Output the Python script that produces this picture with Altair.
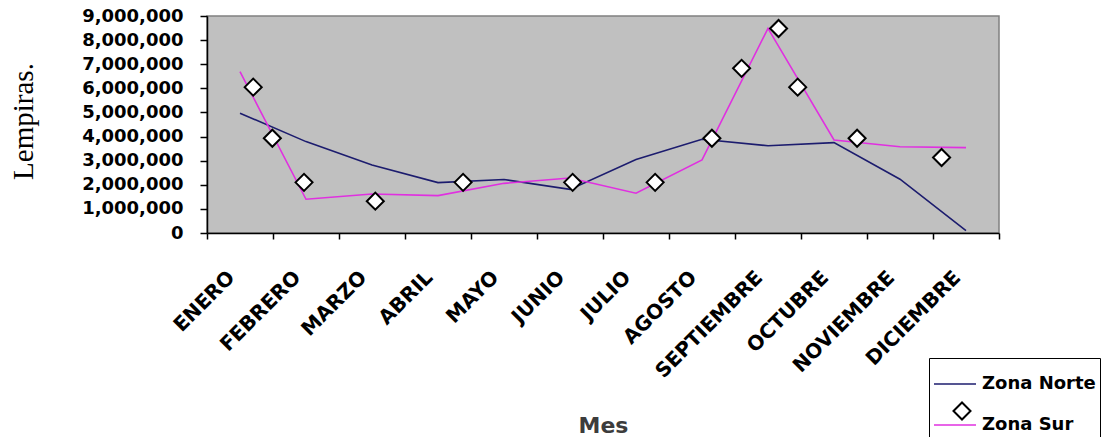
import altair as alt
import pandas as pd

# ---- data ----
meses = ["ENERO", "FEBRERO", "MARZO", "ABRIL", "MAYO", "JUNIO", "JULIO",
         "AGOSTO", "SEPTIEMBRE", "OCTUBRE", "NOVIEMBRE", "DICIEMBRE"]
# position of each month (centre of its band on a 0..12 axis)
mes_pos = [0.5, 1.5, 2.5, 3.5, 4.5, 5.5, 6.5, 7.5, 8.5, 9.5, 10.5, 11.5]
zona_norte = [4970000, 3790000, 2820000, 2090000, 2220000, 1810000,
              3050000, 3890000, 3620000, 3750000, 2230000, 100000]
zona_sur = [6690000, 1400000, 1620000, 1550000, 2060000, 2280000,
            1650000, 3030000, 8490000, 3860000, 3580000, 3540000]
# diamond markers of the "Zona Sur" series
marcador_pos = [0.70, 0.99, 1.47, 2.55, 3.88, 5.54, 6.79, 7.65, 8.10, 8.66, 8.95, 9.85, 11.13]
marcador_val = [6050000, 3930000, 2100000, 1320000, 2100000, 2100000, 2100000,
                3930000, 6830000, 8480000, 6050000, 3930000, 3130000]
series = ["Zona Norte", "Zona Sur"]
colores = ["#1C1C6E", "#E030E0"]
y_ticks = [0, 1000000, 2000000, 3000000, 4000000, 5000000, 6000000,
           7000000, 8000000, 9000000]

rows = []
for p, v in zip(mes_pos, zona_norte):
    rows.append({"pos": p, "valor": v, "zona": "Zona Norte"})
for p, v in zip(mes_pos, zona_sur):
    rows.append({"pos": p, "valor": v, "zona": "Zona Sur"})
df_lines = pd.DataFrame(rows)
df_pts = pd.DataFrame({"pos": marcador_pos, "valor": marcador_val,
                       "marcador": ["Zona Sur"] * len(marcador_pos)})

label_array = "[" + ",".join("'%s'" % m for m in meses) + "]"

xscale = alt.Scale(domain=[0, 12], nice=False, zero=False)
yscale = alt.Scale(domain=[0, 9000000], nice=False)

xaxis = alt.Axis(
    values=list(range(13)),
    labelExpr="datum.value < 12 ? %s[datum.value] : ''" % label_array,
    labelAngle=315, labelAlign="right", labelBaseline="middle",
    labelOffset=24, labelPadding=35,
    labelFont="DejaVu Sans", labelFontWeight="bold", labelFontSize=20,
    labelColor="black", labelOverlap=False, labelBound=False, labelFlush=False,
    tickSize=6, tickColor="black", tickWidth=1.5,
    domainColor="black", domainWidth=1.5, grid=False,
    title="Mes", titleFont="DejaVu Sans", titleFontWeight="bold",
    titleFontSize=22, titleColor="#3C3C3C",
    titleX=396, titleY=199, titleAlign="center", titleBaseline="alphabetic",
)
yaxis = alt.Axis(
    values=y_ticks, format=",.0f",
    labelFont="DejaVu Sans", labelFontWeight="bold", labelFontSize=18,
    labelColor="black", labelPadding=17, labelOverlap=False,
    tickSize=7, tickColor="black", tickWidth=1.5,
    domainColor="black", domainWidth=1.5, grid=False,
    title="Lempiras.", titleFont="Liberation Serif", titleFontWeight="normal",
    titleFontSize=29, titleColor="black", titleAngle=270,
    titleX=-175, titleY=105, titleAlign="center", titleBaseline="alphabetic",
)

lines = alt.Chart(df_lines).mark_line(strokeWidth=1.6).encode(
    x=alt.X("pos:Q", scale=xscale, axis=xaxis),
    y=alt.Y("valor:Q", scale=yscale, axis=yaxis),
    color=alt.Color(
        "zona:N",
        scale=alt.Scale(domain=series, range=colores),
        legend=alt.Legend(
            title=None, orient="none", legendX=722, legendY=342,
            symbolType="stroke", symbolSize=1764, symbolStrokeWidth=1.5,
            labelFont="DejaVu Sans", labelFontWeight="bold", labelFontSize=18,
            labelColor="black", labelOffset=5, labelLimit=300,
            padding=4, rowPadding=10, strokeColor="black",
        ),
    ),
)

pts = alt.Chart(df_pts).mark_point(
    shape="diamond", filled=True, fill="white",
    strokeWidth=2, size=290, opacity=1
).encode(
    x=alt.X("pos:Q", scale=xscale, axis=xaxis),
    y=alt.Y("valor:Q", scale=yscale, axis=yaxis),
    stroke=alt.Stroke(
        "marcador:N",
        scale=alt.Scale(domain=["Zona Sur"], range=["black"]),
        legend=alt.Legend(
            title=None, orient="none", legendX=745, legendY=385,
            labelExpr="''", labelFontSize=10, padding=0,
            symbolType="diamond", symbolSize=290, symbolStrokeWidth=2,
            symbolFillColor="white", symbolOpacity=1, zindex=1,
        ),
    ),
)

chart = alt.layer(lines, pts).properties(
    width=792, height=217,
    autosize=alt.AutoSizeParams(type="none"),
    padding={"left": 207, "top": 16, "right": 106, "bottom": 204},
    background="white",
).configure_view(
    fill="#C0C0C0", stroke="#808080", strokeWidth=1.5
)

chart.save("out.html", embed_options={"renderer": "svg", "actions": False})
